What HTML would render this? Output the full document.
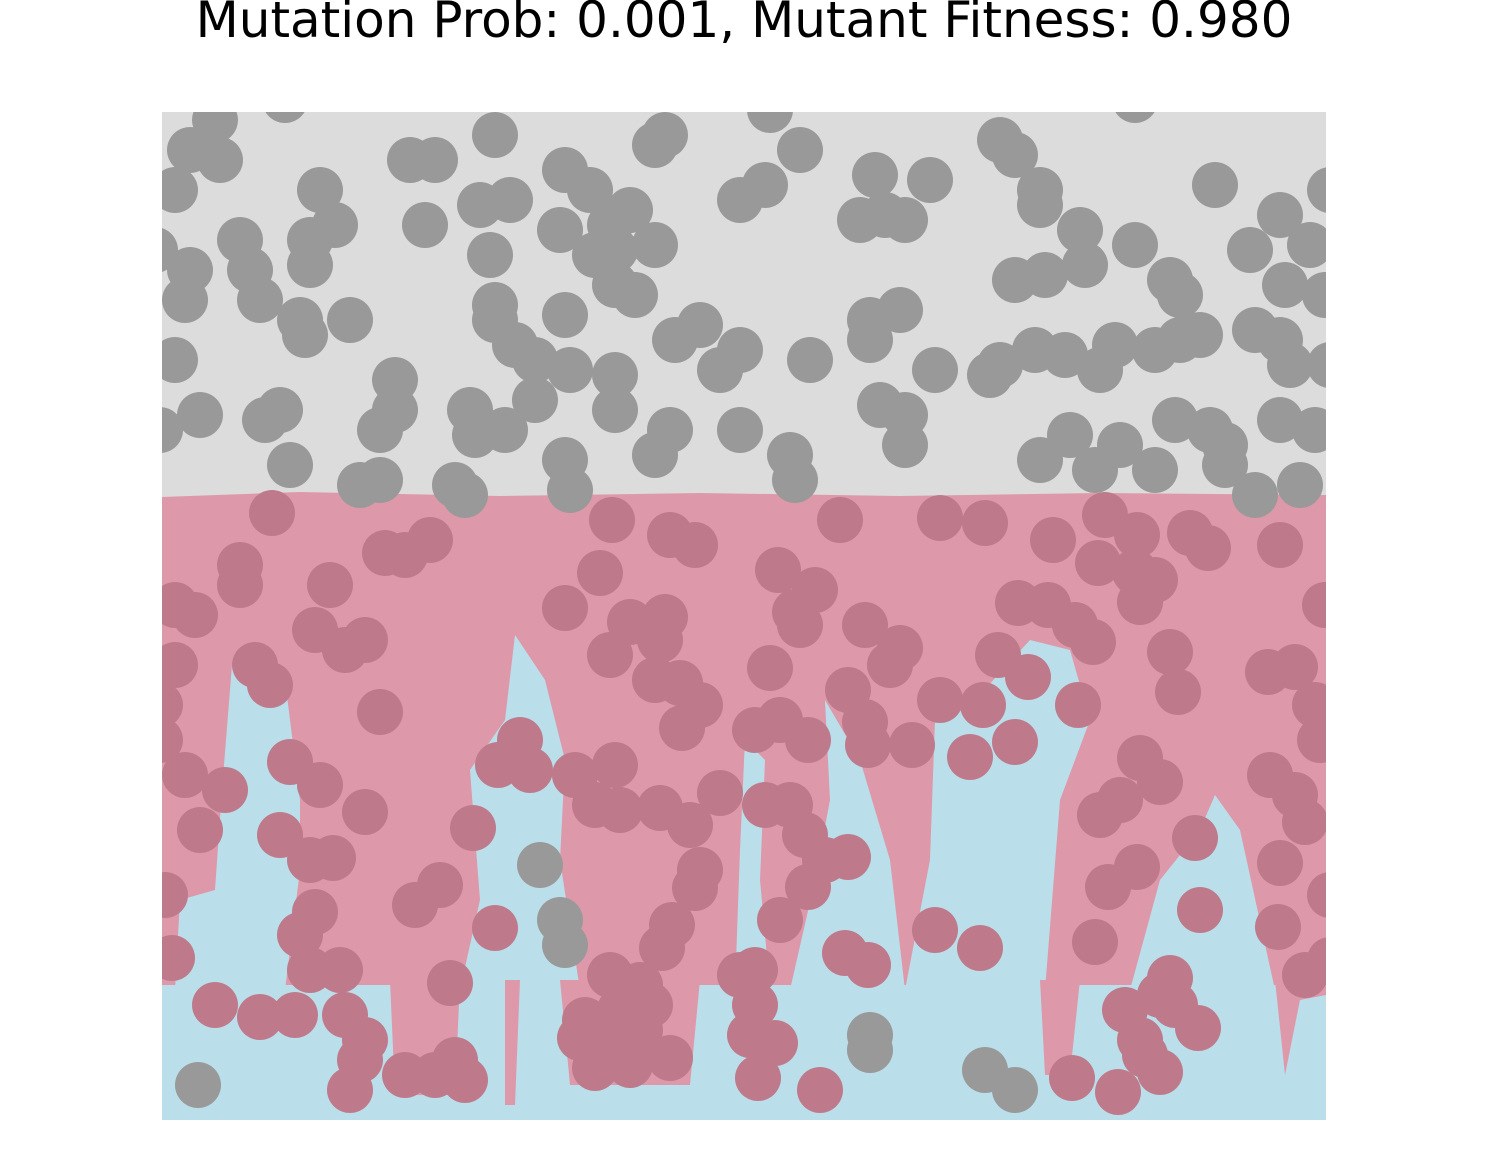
<!DOCTYPE html>
<html><head><meta charset="utf-8"><style>
html,body{margin:0;padding:0;background:#fff;}
body{width:1488px;height:1171px;position:relative;overflow:hidden;font-family:"DejaVu Sans","Liberation Sans",sans-serif;}
#title{position:absolute;left:0;width:1488px;top:-9px;text-align:center;font-size:50px;color:#000;white-space:nowrap;}
svg{position:absolute;left:0;top:0;}
</style></head><body>
<div id="title">Mutation Prob: 0.001, Mutant Fitness: 0.980</div>
<svg id="chart" width="1488" height="1171"></svg>
<script>
const grayCells=[[215,120],[190,150],[220,160],[175,190],[285,100],[320,190],[335,225],[310,240],[310,265],[240,240],[250,270],[260,300],[190,270],[185,300],[175,360],[155,250],[300,320],[305,335],[350,320],[410,160],[435,160],[425,225],[495,135],[480,205],[510,200],[490,255],[495,305],[495,320],[515,345],[565,170],[590,190],[560,230],[630,210],[610,225],[595,255],[615,250],[615,285],[635,295],[655,245],[655,145],[665,135],[565,315],[570,370],[535,360],[535,400],[615,375],[615,410],[675,340],[700,325],[720,370],[740,350],[740,200],[765,185],[770,110],[800,150],[875,175],[930,180],[860,220],[885,215],[905,220],[810,360],[870,320],[870,340],[900,310],[935,370],[880,405],[905,415],[905,445],[740,430],[670,430],[655,455],[790,455],[795,480],[1000,140],[1015,155],[1040,190],[1040,205],[1080,230],[1085,265],[1015,280],[1045,275],[1135,245],[1170,280],[1180,295],[1215,185],[1250,250],[1280,215],[1310,245],[1285,285],[1325,295],[1330,190],[990,375],[1000,365],[1035,350],[1065,355],[1100,370],[1115,345],[1155,350],[1180,340],[1200,335],[1255,330],[1280,340],[1290,365],[1330,365],[1070,435],[1040,460],[1095,470],[1120,445],[1155,470],[1175,420],[1210,430],[1225,445],[1225,465],[1280,420],[1315,430],[1255,495],[1300,485],[160,430],[200,415],[265,420],[280,410],[290,465],[395,380],[395,410],[380,430],[360,485],[380,480],[455,485],[465,495],[470,410],[475,435],[505,430],[565,460],[570,490],[1135,100],[540,865],[560,920],[565,945],[870,1035],[870,1050],[985,1070],[1015,1090],[198,1085]];
const mutantCells=[[272,513],[240,565],[240,585],[330,585],[175,605],[195,615],[315,630],[345,650],[365,640],[405,555],[385,553],[430,540],[175,665],[255,665],[270,685],[160,705],[160,740],[380,712],[290,762],[320,785],[185,775],[225,790],[365,812],[200,830],[280,835],[310,860],[333,858],[165,895],[315,912],[300,935],[310,970],[340,970],[172,958],[215,1005],[260,1017],[295,1015],[345,1015],[365,1040],[360,1060],[350,1090],[405,1075],[435,1075],[455,1060],[465,1080],[415,905],[440,885],[450,983],[495,928],[473,828],[498,765],[520,740],[530,770],[575,775],[595,805],[615,765],[620,810],[660,808],[690,825],[720,793],[600,573],[612,520],[565,608],[610,655],[630,622],[665,617],[660,640],[670,535],[695,545],[655,680],[680,683],[700,705],[682,728],[755,730],[780,720],[808,740],[770,668],[778,570],[815,590],[795,612],[800,625],[840,520],[865,625],[900,648],[890,665],[848,690],[865,722],[868,745],[912,745],[940,700],[970,757],[983,705],[998,655],[1015,742],[1028,677],[1018,603],[1048,605],[1075,625],[1093,642],[1078,705],[940,518],[985,523],[1053,540],[1105,515],[1137,535],[1098,563],[1135,572],[1155,580],[1140,602],[1190,533],[1208,548],[1280,545],[1170,652],[1178,692],[1268,672],[1295,667],[1315,705],[1320,740],[1325,605],[1140,758],[1160,782],[1120,800],[1100,815],[1270,775],[1295,795],[1305,822],[1195,838],[1137,867],[1108,887],[1280,863],[1200,910],[1095,942],[1278,927],[1330,895],[1305,975],[1330,960],[1170,978],[1160,995],[1125,1010],[1140,1040],[1175,1005],[1198,1028],[1145,1055],[1160,1072],[1118,1092],[1072,1078],[765,805],[790,805],[805,835],[825,860],[848,857],[808,887],[780,920],[845,953],[868,965],[935,930],[980,948],[700,870],[695,888],[672,925],[662,948],[755,970],[740,975],[755,1005],[750,1035],[775,1043],[758,1078],[820,1090],[670,1058],[630,1065],[595,1068],[580,1038],[610,975],[640,985],[650,1005],[620,1010],[585,1020],[610,1045],[640,1030]];
const blueRegions=[
"M232,665 L285,680 L300,800 L300,870 L285,990 L175,990 L180,900 L215,890 L222,790 Z",
"M515,635 L545,680 L565,760 L560,860 L580,990 L460,990 L480,900 L470,770 L505,720 Z",
"M745,740 L765,760 L760,880 L770,990 L735,990 L740,850 Z",
"M825,700 L860,760 L890,860 L905,990 L790,990 L815,880 L830,800 Z",
"M935,720 L975,700 L1030,640 L1070,650 L1090,720 L1060,800 L1045,990 L905,990 L930,860 Z",
"M1215,795 L1240,830 L1275,990 L1130,990 L1160,880 L1200,830 Z",
"M162,985 L1326,985 L1326,1120 L162,1120 Z"];
const pinkFingers=["M390,980 L460,980 L455,1095 L395,1095 Z","M1040,980 L1080,980 L1070,1075 L1045,1075 Z","M1275,980 L1326,980 L1326,995 L1300,1000 L1285,1075 Z","M505,980 L520,980 L515,1105 L505,1105 Z","M560,980 L700,980 L690,1085 L570,1085 Z"];
const NS="http://www.w3.org/2000/svg";
const svg=document.getElementById('chart');
const X0=162,X1=1326,Y0=112,Y1=1120,R=23;
function el(t,a){const e=document.createElementNS(NS,t);for(const k in a)e.setAttribute(k,a[k]);return e;}
const defs=el('defs',{});const cp=el('clipPath',{id:'clip'});cp.appendChild(el('rect',{x:X0,y:Y0,width:X1-X0,height:Y1-Y0}));defs.appendChild(cp);svg.appendChild(defs);
const g=el('g',{'clip-path':'url(#clip)'});svg.appendChild(g);
const bg=el('rect',{x:X0,y:Y0,width:X1-X0,height:Y1-Y0,fill:'#dcdcdc'});


g.appendChild(bg);
const pink=el('path',{d:'M162,497 L300,492 L500,496 L700,493 L900,496 L1100,493 L1326,495 L1326,1120 L162,1120 Z',fill:'#dd99aa'});


g.appendChild(pink);
blueRegions.forEach(d=>{const p=el('path',{d:d,fill:'#badfea'});


g.appendChild(p);});
pinkFingers.forEach(d=>{const p=el('path',{d:d,fill:'#dd99aa'});


g.appendChild(p);});
grayCells.forEach(c=>{const e=el('circle',{cx:c[0],cy:c[1],r:R,fill:'#999999'});


g.appendChild(e);});
mutantCells.forEach(c=>{const e=el('circle',{cx:c[0],cy:c[1],r:R,fill:'#be7a8b'});


g.appendChild(e);});
</script>
</body></html>
